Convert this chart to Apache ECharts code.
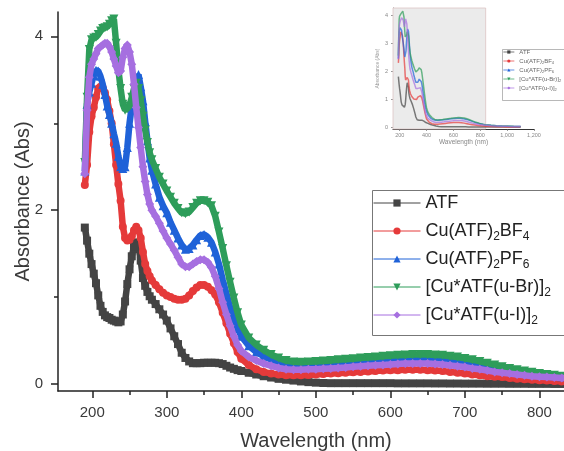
<!DOCTYPE html>
<html><head><meta charset="utf-8">
<script src="https://cdn.jsdelivr.net/npm/echarts@6/dist/echarts.min.js"></script>
<style>html,body{margin:0;padding:0;background:#fff}#c{width:564px;height:451px}</style>
</head><body><div id="c"></div>
<script>
// Wavelength grid (nm)
const wavelength = [
  190,193,196,199,202,205,208,211,214,217,220,223,226,229,232,235,238,241,244,247,250,253,256,259,262,265,268,271,274,277,280,
  285,290,295,300,305,310,315,320,325,330,335,340,345,350,355,360,365,370,375,380,385,390,395,400,
  410,420,430,440,450,460,470,480,490,500,510,520,530,540,550,560,570,580,590,600,610,620,630,640,650,660,670,680,690,700,
  710,720,730,740,750,760,770,780,790,800,810,820,830,840,
  880,920,960,1000,1050,1100
];
const atf = [
  1.80,1.65,1.50,1.38,1.27,1.16,1.02,0.90,0.83,0.79,0.77,0.76,0.74,0.73,0.72,0.71,0.72,0.80,0.95,1.15,1.32,1.47,1.58,1.63,1.58,1.42,1.22,1.13,1.06,1.01,0.97,
  0.92,0.86,0.80,0.73,0.64,0.55,0.46,0.36,0.30,0.26,0.24,0.24,0.24,0.245,0.245,0.245,0.245,0.24,0.23,0.21,0.19,0.175,0.16,0.15,
  0.13,0.11,0.09,0.075,0.06,0.05,0.04,0.03,0.022,0.016,0.012,0.01,0.01,0.01,0.01,0.01,0.01,0.01,0.01,0.01,
  0.008,0.008,0.008,0.008,0.008,0.007,0.007,0.006,0.006,0.005,0.005,0.005,0.004,0.004,0.004,0.003,0.003,0.003,0.002,0.002,
  0.002,0.001,0.001,0.001,
  0,0,0,0,0,0
];
const bf4 = [
  2.29,2.52,2.90,3.08,3.18,3.30,3.40,3.42,3.41,3.35,3.27,3.14,3.00,2.76,2.52,2.30,2.11,1.81,1.68,1.65,1.66,1.70,1.77,1.81,1.77,1.68,1.52,1.38,1.30,1.24,1.19,
  1.14,1.09,1.05,1.02,1.00,0.98,0.97,0.97,0.98,1.02,1.07,1.11,1.14,1.14,1.12,1.08,1.03,0.94,0.82,0.70,0.58,0.47,0.37,0.29,
  0.22,0.17,0.14,0.12,0.11,0.10,0.10,0.10,0.105,0.11,0.115,0.12,0.125,0.13,0.135,0.14,0.145,0.15,0.155,0.16,
  0.16,0.165,0.165,0.165,0.16,0.155,0.15,0.14,0.13,0.12,0.11,0.10,0.09,0.085,0.08,0.07,0.06,0.055,0.05,0.045,
  0.04,0.035,0.03,0.025,
  0.015,0.01,0.008,0.005,0.003,0
];
const pf6 = [
  2.45,3.22,3.36,3.46,3.55,3.61,3.60,3.54,3.45,3.33,3.20,3.10,3.00,2.88,2.77,2.62,2.50,2.48,2.50,2.72,3.00,3.20,3.35,3.50,3.56,3.42,3.26,3.02,2.80,2.60,2.46,
  2.30,2.15,2.05,1.97,1.86,1.77,1.68,1.60,1.55,1.56,1.60,1.66,1.71,1.72,1.69,1.63,1.52,1.38,1.20,1.04,0.88,0.76,0.64,0.55,
  0.44,0.37,0.32,0.285,0.26,0.245,0.24,0.24,0.24,0.245,0.25,0.255,0.26,0.265,0.27,0.28,0.285,0.29,0.295,0.30,
  0.305,0.31,0.31,0.31,0.31,0.305,0.30,0.29,0.28,0.27,0.255,0.24,0.22,0.20,0.185,0.17,0.155,0.14,0.125,0.115,
  0.105,0.095,0.085,0.08,
  0.06,0.045,0.035,0.03,0.02,0.015
];
const cuBr = [
  2.55,3.30,3.85,3.96,3.98,3.99,4.02,4.06,4.09,4.10,4.11,4.14,4.18,4.20,3.92,3.62,3.40,3.22,3.15,3.17,3.20,3.30,3.40,3.46,3.40,3.26,3.08,2.92,2.78,2.66,2.58,
  2.48,2.38,2.30,2.22,2.15,2.08,2.02,1.97,1.96,1.98,2.03,2.08,2.11,2.11,2.09,2.05,1.93,1.75,1.56,1.36,1.17,0.99,0.82,0.68,
  0.53,0.45,0.39,0.34,0.30,0.27,0.255,0.25,0.255,0.26,0.265,0.27,0.28,0.285,0.29,0.30,0.305,0.31,0.32,0.325,
  0.33,0.335,0.34,0.34,0.34,0.335,0.33,0.32,0.31,0.295,0.28,0.26,0.24,0.22,0.20,0.18,0.165,0.15,0.135,0.12,
  0.11,0.10,0.09,0.085,
  0.065,0.05,0.04,0.035,0.025,0.02
];
const cuI = [
  2.42,3.15,3.53,3.68,3.74,3.80,3.86,3.88,3.90,3.92,3.92,3.88,3.82,3.74,3.66,3.58,3.60,3.76,3.86,3.90,3.82,3.68,3.45,3.18,2.95,2.72,2.50,2.33,2.18,2.07,2.00,
  1.93,1.85,1.76,1.68,1.61,1.54,1.46,1.38,1.35,1.35,1.38,1.41,1.43,1.43,1.40,1.34,1.24,1.10,0.94,0.80,0.67,0.55,0.45,0.38,
  0.31,0.27,0.235,0.21,0.185,0.17,0.165,0.165,0.17,0.17,0.175,0.18,0.185,0.19,0.20,0.205,0.21,0.215,0.22,0.225,
  0.23,0.235,0.235,0.235,0.235,0.23,0.225,0.215,0.205,0.195,0.18,0.17,0.155,0.14,0.13,0.12,0.11,0.10,0.09,0.085,
  0.08,0.075,0.07,0.065,
  0.05,0.04,0.03,0.025,0.02,0.015
];
const seriesNames = ['ATF','Cu(ATF)2BF4','Cu(ATF)2PF6','[Cu*ATF(u-Br)]2','[Cu*ATF(u-I)]2'];
const seriesRich = ['{a|ATF}{s| }','{a|Cu(ATF)}{s|2}{a|BF}{s|4}','{a|Cu(ATF)}{s|2}{a|PF}{s|6}','{a|[Cu*ATF(u-Br)]}{s|2}','{a|[Cu*ATF(u-I)]}{s|2}'];
const seriesValues = [atf, bf4, pf6, cuBr, cuI];
const mainXTicks = [200,300,400,500,600,700,800];
const mainXMinor = [250,350,450,550,650,750];
const mainYTicks = [0,2,4];
const mainYMinor = [1,3];
const insetXTicks = [200,400,600,800,1000,1200];
const insetYTicks = [0,1,2,3,4];

const colors = ['#444444','#e53a3a','#1f62d8','#2e9d5a','#a66fe0'];
const symbols = ['rect','circle','triangle','triangle','diamond'];
const rotates = [0,0,0,180,0];
const sizes = [8,8,9,9,9];

const series = [];
seriesValues.forEach((vals, k) => {
  series.push({
    type:'line', name: seriesNames[k], xAxisIndex:0, yAxisIndex:0,
    data: wavelength.map((w,i)=>[w, vals[i]]),
    symbol: symbols[k], symbolSize: sizes[k], symbolRotate: rotates[k], showAllSymbol: true,
    lineStyle:{width:6.5, color: colors[k]}, itemStyle:{color: colors[k]},
    z: 2 + k, animation:false, clip:true
  });
});
seriesValues.forEach((vals, k) => {
  const s = {
    type:'line', name: seriesNames[k], xAxisIndex:2, yAxisIndex:2,
    data: wavelength.map((w,i)=>[w, vals[i]]),
    symbol:'none', lineStyle:{width:1.5, color: colors[k], opacity:0.7},
    itemStyle:{color: colors[k]}, z: 10 + k, animation:false
  };
  if (k === 0) {
    s.markArea = { silent:true, z:1,
      itemStyle:{color:'#ebebeb', borderColor:'#dcc4c4', borderWidth:0.8},
      data:[[{xAxis:150, yAxis:-0.07},{xAxis:840, yAxis:4.25}]] };
  }
  series.push(s);
});

const axisCol = '#222';
const txtCol = '#3a3a3a';

// main legend: one component per row so rows sit at equal spacing
const legendRowCenters = [203, 231, 259, 287, 315];
const mainLegends = seriesNames.map((nm, k) => ({
  orient:'vertical', left:373, top: legendRowCenters[k] - 9, padding:0,
  itemWidth:47, itemHeight:9, data:[nm],
  lineStyle:{width:1}, selectedMode:false,
  formatter:(n)=>seriesRich[seriesNames.indexOf(n)],
  textStyle:{fontFamily:'Liberation Sans', color:'#222',
    rich:{a:{fontSize:18, lineHeight:24, color:'#222', fontFamily:'Liberation Sans'},
          s:{fontSize:12, lineHeight:12, verticalAlign:'bottom', color:'#222', fontFamily:'Liberation Sans'}}}
}));
const insetLegend = {orient:'vertical', left:503, top:49, padding:0, itemGap:2.5,
  itemWidth:11, itemHeight:4, data:seriesNames,
  lineStyle:{width:0.7}, selectedMode:false,
  formatter:(n)=>seriesRich[seriesNames.indexOf(n)],
  textStyle:{color:'#666',
    rich:{a:{fontSize:6, lineHeight:7, color:'#666'},
          s:{fontSize:4, lineHeight:4, verticalAlign:'bottom', color:'#666'}}}};

const option = {
  backgroundColor:'#fff',
  animation:false,
  grid:[
    {left:58, top:12, right:0, bottom:60, outerBoundsMode:'none', containLabel:false},
    {left:393, top:8, width:141, height:121, outerBoundsMode:'none', containLabel:false}
  ],
  xAxis:[
    {type:'value', gridIndex:0, position:'bottom', min:154, max:833,
     axisLine:{onZero:false, lineStyle:{color:axisCol, width:1.5}},
     axisTick:{customValues:mainXTicks, length:7, lineStyle:{color:axisCol, width:1.5}},
     axisLabel:{customValues:mainXTicks, fontSize:15, color:txtCol, margin:14, fontFamily:'Liberation Sans'},
     splitLine:{show:false},
     name:'Wavelength (nm)', nameLocation:'middle', nameGap:40, nameMoveOverlap:false,
     nameTextStyle:{fontSize:20, color:txtCol, fontFamily:'Liberation Sans', padding:[0,0,0,10]}},
    {type:'value', gridIndex:0, position:'bottom', min:154, max:833,
     axisLine:{show:false, onZero:false},
     axisTick:{customValues:mainXMinor, length:4, lineStyle:{color:axisCol, width:1.5}},
     axisLabel:{show:false}, splitLine:{show:false}},
    {type:'value', gridIndex:1, position:'bottom', min:150, max:1200,
     axisLine:{onZero:false, lineStyle:{color:'#333', width:1}},
     axisTick:{customValues:insetXTicks, length:2, lineStyle:{color:'#555', width:0.6}},
     axisLabel:{customValues:insetXTicks, fontSize:5.5, color:'#888', margin:3},
     splitLine:{show:false},
     name:'Wavelength (nm)', nameLocation:'middle', nameGap:10, nameMoveOverlap:false,
     nameTextStyle:{fontSize:6.5, color:'#888'}}
  ],
  yAxis:[
    {type:'value', gridIndex:0, position:'left', min:-0.08, max:4.28,
     axisLine:{show:true, onZero:false, lineStyle:{color:axisCol, width:1.5}},
     axisTick:{show:true, customValues:mainYTicks, length:7, lineStyle:{color:axisCol, width:1.5}},
     axisLabel:{customValues:mainYTicks, fontSize:15, color:txtCol, margin:15, fontFamily:'Liberation Sans'},
     splitLine:{show:false},
     name:'Absorbance (Abs)', nameLocation:'middle', nameGap:25, nameMoveOverlap:false,
     nameTextStyle:{fontSize:20, color:txtCol, fontFamily:'Liberation Sans'}},
    {type:'value', gridIndex:0, position:'left', min:-0.08, max:4.28,
     axisLine:{show:false, onZero:false},
     axisTick:{show:true, customValues:mainYMinor, length:4, lineStyle:{color:axisCol, width:1.5}},
     axisLabel:{show:false}, splitLine:{show:false}},
    {type:'value', gridIndex:1, position:'left', min:-0.07, max:4.25,
     axisLine:{show:true, onZero:false, lineStyle:{color:'#444', width:0.8}},
     axisTick:{show:true, customValues:insetYTicks, length:2, lineStyle:{color:'#555', width:0.6}},
     axisLabel:{customValues:insetYTicks, fontSize:5.5, color:'#888', margin:5},
     splitLine:{show:false},
     name:'Absorbance (Abs)', nameLocation:'middle', nameGap:13, nameMoveOverlap:false,
     nameTextStyle:{fontSize:5, color:'#999'}}
  ],
  legend: mainLegends.concat([insetLegend]),
  graphic:[
    {type:'rect', left:370, top:188, shape:{width:200, height:145}, style:{fill:'none', stroke:'#777', lineWidth:1}, z:0, silent:true},
    {type:'rect', left:500, top:47, shape:{width:63, height:51}, style:{fill:'none', stroke:'#999', lineWidth:0.7}, z:0, silent:true}
  ],
  series: series
};
const chart = echarts.init(document.getElementById('c'));
chart.setOption(option);
</script></body></html>
